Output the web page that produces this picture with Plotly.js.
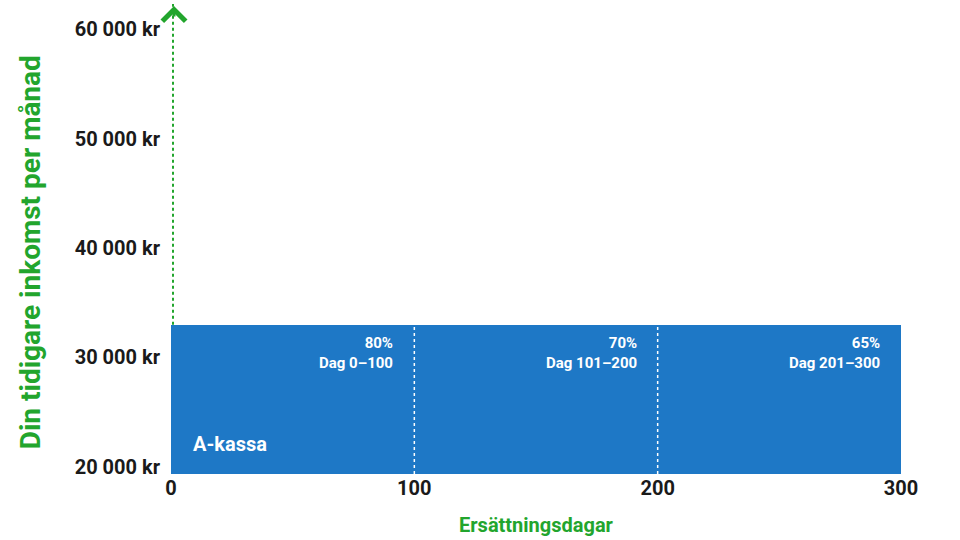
<!DOCTYPE html>
<html><head><meta charset="utf-8">
<script src="https://cdn.plot.ly/plotly-3.0.1.min.js"></script>
<style>html,body{margin:0;padding:0;background:#fff}#chart{width:960px;height:540px}</style>
</head><body><div id="chart"></div>
<script>
// Data
const segStart = [0, 100, 200];
const segEnd = [100, 200, 300];
const rates = ['80%', '70%', '65%'];
const dayLabels = ['Dag 0–100', 'Dag 101–200', 'Dag 201–300'];
const incomeCap = 33000;
const seriesName = 'A-kassa';
const yTickVals = [20000, 30000, 40000, 50000, 60000];
const yTickText = ['20 000 kr', '30 000 kr', '40 000 kr', '50 000 kr', '60 000 kr'];
const xTickVals = [0, 100, 200, 300];
const xTitle = 'Ersättningsdagar';
const yTitle = 'Din tidigare inkomst per månad';

const GREEN = '#22a52d';
const BLUE = '#1e78c6';
const FONT = 'Roboto, "Open Sans", sans-serif';
const yMin = 19350, yMax = 62300;

const mids = segStart.map((s, i) => (s + segEnd[i]) / 2);
const widths = segStart.map((s, i) => segEnd[i] - s);

const traces = [{
  type: 'bar',
  x: mids,
  y: segStart.map(() => incomeCap),
  width: widths,
  marker: {color: BLUE, line: {width: 0}},
  hoverinfo: 'skip',
  showlegend: false
}];

const annotations = [];
segEnd.forEach((e, i) => {
  annotations.push({
    x: e, y: incomeCap, xref: 'x', yref: 'y',
    xanchor: 'right', yanchor: 'top', xshift: -19, yshift: -7,
    align: 'right', showarrow: false,
    text: '<b>' + rates[i] + '<br>' + dayLabels[i] + '</b>',
    font: {family: FONT, size: 15, color: '#ffffff'}
  });
});
annotations.push({
  x: segStart[0], y: yMin, xref: 'x', yref: 'y', xanchor: 'left', yanchor: 'bottom',
  xshift: 20, yshift: 16, showarrow: false,
  text: '<b>' + seriesName + '</b>', font: {family: FONT, size: 20, color: '#ffffff'}
});
// y axis title (placed as rotated annotation)
annotations.push({
  xref: 'paper', yref: 'paper', x: -0.193, y: 0.472, xanchor: 'center', yanchor: 'middle',
  textangle: -90, showarrow: false,
  text: '<b>' + yTitle + '</b>', font: {family: FONT, size: 28, color: GREEN}
});
// arrow head at top of y axis
annotations.push({
  x: 0, y: yMax, xref: 'x', yref: 'y', ax: 0, ay: 12, axref: 'pixel', ayref: 'pixel',
  showarrow: true, arrowhead: 4, arrowsize: 1.5, arrowwidth: 3, arrowcolor: GREEN,
  text: '', xshift: 3, yshift: -2
});

const shapes = [];
shapes.push({type: 'line', xref: 'x', yref: 'y', xsizemode: 'pixel', xanchor: 0, x0: 2, x1: 2,
  y0: incomeCap, y1: yMax, line: {color: GREEN, width: 2, dash: 'dot'}, layer: 'above'});
segEnd.slice(0, -1).forEach(e => {
  shapes.push({type: 'line', xref: 'x', yref: 'y', x0: e, x1: e, y0: yMin, y1: incomeCap,
    line: {color: '#ffffff', width: 1.5, dash: 'dot'}, layer: 'above'});
});

const layout = {
  width: 960, height: 540,
  margin: {l: 171, r: 59, t: 4, b: 66},
  paper_bgcolor: '#ffffff', plot_bgcolor: '#ffffff',
  bargap: 0,
  xaxis: {
    range: [0, 300], tickvals: xTickVals, ticktext: xTickVals.map(String),
    showgrid: false, zeroline: false, showline: false, ticks: '',
    tickfont: {family: FONT, size: 20, color: '#1a1a1a', weight: 'bold'},
    title: {text: '<b>' + xTitle + '</b>', font: {family: FONT, size: 20, color: GREEN}, standoff: 18}
  },
  yaxis: {
    range: [yMin, yMax], tickvals: yTickVals, ticktext: yTickText,
    showgrid: false, zeroline: false, showline: false, ticks: '', ticklabelstandoff: 10,
    tickfont: {family: FONT, size: 20, color: '#1a1a1a', weight: 'bold'}
  },
  annotations: annotations,
  shapes: shapes
};

Plotly.newPlot('chart', traces, layout, {displayModeBar: false, staticPlot: true});
</script>
</body></html>
